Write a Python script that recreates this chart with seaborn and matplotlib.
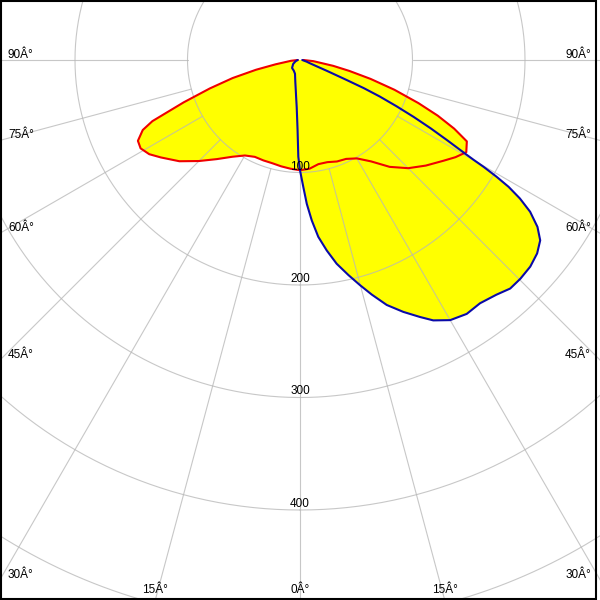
import matplotlib.pyplot as plt
import numpy as np
import pandas as pd
import seaborn as sns
from matplotlib.patches import Rectangle


sns.set_theme(style="white")
plt.rcParams["font.family"] = ["Liberation Sans", "DejaVu Sans"]


# C0-C180 plane (red), gamma in degrees, intensity in cd/klm
red_gamma = [-90, -85, -80, -77.5, -75, -72.5, -70, -67.5, -66, -63.5, -61, -58,
             -55, -50, -45, -40, -35, -30, -25, -20, -15, -10, -5, 0, 5, 10, 15,
             20, 25, 30, 35, 40, 45, 50, 55, 58, 61, 64, 66, 68, 70, 72.5, 75,
             77.5, 80, 85, 90]
red_cd = [2, 8, 22, 40, 62, 84, 110, 142, 153, 161, 162, 158,
          151, 140, 127, 115, 105, 98, 95, 95, 95, 96, 97, 98, 97, 94, 94,
          96, 97, 101, 110, 124, 136, 146, 156, 163, 169, 165, 150, 132, 112, 88, 65,
          45, 30, 12, 3]

# C90-C270 plane (blue)
blue_gamma = [-90, -75, -60, -45, -30, -20, -12, -8, -6, -4, -2, -1, 0, 1.5, 2.7,
              4.2, 5.9, 8, 10.2, 12.7, 14.9, 17, 19.5, 22.3, 25, 27.1, 30, 33.3,
              36.5, 39.9, 42.6, 45.2, 48.1, 50.8, 53.1, 54.9, 56.6, 57.8, 58.7,
              59.3, 59.8, 60.1, 60.4, 61.4, 62.4, 63.4, 64.4, 65.4, 66.2, 66.8,
              68, 69.5, 72, 76, 90]
blue_cd = [2, 4, 7, 10, 11, 13, 20, 27, 33, 42, 62, 86, 98, 113, 128,
           143, 158, 171, 184, 196, 207, 218, 231, 242, 252, 260, 267, 270,
           269, 272, 276, 276, 275, 272, 267, 258, 245, 231, 217,
           203, 189, 178, 170, 149, 131, 113, 95, 78, 62, 45,
           26, 15, 9, 6, 2]

ring_values = [100, 200, 300, 400, 500]
ring_labels = ["100", "200", "300", "400"]
spoke_angles = [-90, -75, -60, -45, -30, -15, 0, 15, 30, 45, 60, 75, 90]
spoke_labels = ["90Â°", "75Â°", "60Â°", "45Â°", "30Â°", "15Â°", "0Â°",
                "15Â°", "30Â°", "45Â°", "60Â°", "75Â°", "90Â°"]

red = pd.DataFrame({"theta": np.radians(red_gamma), "cd": red_cd})
blue = pd.DataFrame({"theta": np.radians(blue_gamma), "cd": blue_cd})

W = 600
PX_PER_UNIT = 1.125
R_MAX = 560
pole_x, pole_y = 300, 60  # pixels from top-left
rad_px = R_MAX * PX_PER_UNIT

fig = plt.figure(figsize=(6, 6), dpi=100)
ax = fig.add_axes(
    [(pole_x - rad_px) / W, (W - pole_y - rad_px) / W, 2 * rad_px / W, 2 * rad_px / W],
    projection="polar",
)
ax.set_theta_zero_location("S")
ax.set_ylim(0, R_MAX)
ax.grid(False)
ax.set_xticks([])
ax.set_yticks([])
ax.spines["polar"].set_visible(False)
ax.set_facecolor("white")

# yellow fill
for df in (red, blue):
    ax.fill(df["theta"], df["cd"], color="#ffff00", lw=0, zorder=1)

# grid drawn over the fill, semi-transparent
grid_kw = dict(color="#b7b7b7", alpha=0.77, linewidth=0.8, zorder=5)
full = np.linspace(0, 2 * np.pi, 721)
for rv in ring_values:
    ax.plot(full, np.full_like(full, rv), **grid_kw)
for a in spoke_angles:
    ax.plot([np.radians(a)] * 2, [ring_values[0], R_MAX], **grid_kw)

sns.lineplot(data=red, x="theta", y="cd", ax=ax, sort=False, estimator=None,
             color="#f00000", linewidth=1.5, zorder=6)
sns.lineplot(data=blue, x="theta", y="cd", ax=ax, sort=False, estimator=None,
             color="#0a0aa8", linewidth=1.5, zorder=6)
ax.set_xlabel("")
ax.set_ylabel("")

PT = 0.72  # points per pixel
txt_kw = dict(fontsize=8.5, color="black", zorder=7, annotation_clip=False)

# angle labels where spokes leave the picture
for a, lab in zip(spoke_angles, spoke_labels):
    s = abs(np.sin(np.radians(a)))
    c = np.cos(np.radians(a))
    side = pole_x / s if s > 1e-9 else np.inf
    bottom = (W - pole_y) / c if c > 1e-9 else np.inf
    if side < bottom:
        r_edge = side / PX_PER_UNIT
        if a < 0:
            off, ha = (8 * PT, 2 * PT), "left"
        else:
            off, ha = (-9 * PT, 2 * PT), "right"
    else:
        r_edge = bottom / PX_PER_UNIT
        off, ha = (0, 7 * PT), "center"
    ax.annotate(lab, xy=(np.radians(a), r_edge), xytext=off,
                textcoords="offset points", ha=ha, va="baseline", **txt_kw)

for rv, lab in zip(ring_values, ring_labels):
    ax.annotate(lab, xy=(0, rv), xytext=(0, 3 * PT), textcoords="offset points",
                ha="center", va="baseline", **txt_kw)

fig.add_artist(Rectangle((1 / W, 1.5 / W), 594.5 / W, 597.5 / W,
                         transform=fig.transFigure, fill=False,
                         edgecolor="black", linewidth=1.5))

fig.savefig("out.png", dpi=100)
